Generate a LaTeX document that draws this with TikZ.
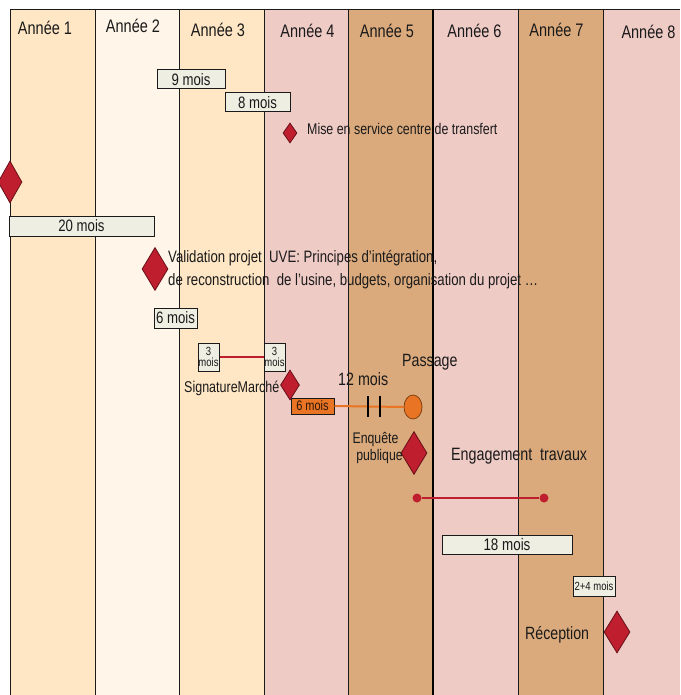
\documentclass[tikz,border=0pt]{standalone}
\usepackage{graphicx}
\usepackage{fontspec}
\setmainfont{Liberation Sans}
\usetikzlibrary{shapes.geometric}
\definecolor{colA}{HTML}{FFE6C4}
\definecolor{colB}{HTML}{FFF5E8}
\definecolor{colP}{HTML}{EFCBC6}
\definecolor{colT}{HTML}{DBAA7C}
\definecolor{boxf}{HTML}{EEEEE2}
\definecolor{dred}{HTML}{BE1E2D}
\definecolor{orng}{HTML}{E87424}
\definecolor{inkc}{HTML}{1A1A1A}
\newcommand\vs[1]{\scalebox{1}[1.25]{#1}}
\newcommand\fs[1]{\fontsize{#1}{#1}\selectfont}
\tikzset{
  mbox/.style={draw=inkc, fill=boxf, line width=1, inner sep=0, text=inkc},
  msdiam/.style={shape=diamond, draw=dred!55!black, fill=dred, inner sep=0, line width=0.8},
  lbl/.style={inner sep=0, anchor=base west, text=inkc},
  hdr/.style={inner sep=0, anchor=base, text=inkc, font=\fs{14.5}},
  sep/.style={line width=1, draw=inkc},
}
\begin{document}
\begin{tikzpicture}[x=1pt,y=-1pt]
\useasboundingbox (0,0) rectangle (680,695);
% columns
\fill[colA] (10,10) rectangle (95,695);
\fill[colB] (95,10) rectangle (179,695);
\fill[colA] (179,10) rectangle (264,695);
\fill[colP] (264,10) rectangle (348,695);
\fill[colT] (348,10) rectangle (433,695);
\fill[colP] (433,10) rectangle (518,695);
\fill[colT] (518,10) rectangle (603,695);
\fill[colP] (603,10) rectangle (680,695);
\draw[sep] (10,10) -- (680,10);
\foreach \xx in {10,95,179,264,348,518,603} \draw[sep] (\xx,10) -- (\xx,695);
\draw[line width=2.5, draw=black] (433,10) -- (433,695);
% headers
\node[hdr] (h1) at (45,35) {\vs{Année 1}};
\node[hdr] (h2) at (133,33) {\vs{Année 2}};
\node[hdr] (h3) at (218,37) {\vs{Année 3}};
\node[hdr] (h4) at (307.5,38) {\vs{Année 4}};
\node[hdr] (h5) at (387,38) {\vs{Année 5}};
\node[hdr] (h6) at (474.5,38) {\vs{Année 6}};
\node[hdr] (h7) at (556.5,37) {\vs{Année 7}};
\node[hdr] (h8) at (648.5,39) {\vs{Année 8}};
% duration boxes
\node[mbox, minimum width=68, minimum height=19, font=\fs{13.2}] (b9) at (191,79.5) {\vs{9 mois}};
\node[mbox, minimum width=65, minimum height=19, font=\fs{13.2}] (b8) at (257.5,102.5) {\vs{8 mois}};
\node[mbox, minimum width=145, minimum height=20, font=\fs{13.2}] (b20) at (81.5,226) {\vs{20 mois}};
\node[mbox, minimum width=43, minimum height=20, font=\fs{13.2}] (b6) at (175.5,318) {\vs{6 mois}};
\node[mbox, minimum width=21, minimum height=28, font=\fs{9.5}, align=center] (b3a) at (208.5,357) {\vs{3}\\[1pt]\vs{mois}};
\node[mbox, minimum width=21, minimum height=28, font=\fs{9.5}, align=center] (b3b) at (274.5,357) {\vs{3}\\[1pt]\vs{mois}};
\node[mbox, fill=orng, minimum width=43, minimum height=16, font=\fs{11}, text=black!80!orng] (bo6) at (312.5,406) {\vs{6 mois}};
\node[mbox, minimum width=130, minimum height=19, font=\fs{13.4}] (b18) at (507,544.5) {\vs{18 mois}};
\node[mbox, minimum width=42, minimum height=20, font=\fs{9.5}] (b24) at (594,586) {\vs{2+4 mois}};
% milestones
\node[msdiam, minimum width=24, minimum height=42] (d1) at (10,182) {};
\node[msdiam, minimum width=14, minimum height=20] (d2) at (290,133) {};
\node[msdiam, minimum width=26, minimum height=43] (d3) at (155,269) {};
\node[msdiam, minimum width=19, minimum height=30] (d4) at (290,385) {};
\node[msdiam, minimum width=26, minimum height=43] (d5) at (414,453) {};
\node[msdiam, minimum width=26, minimum height=42] (d6) at (617,632) {};
% connectors
\draw[dred, line width=2] (b3a.east) -- (b3b.west);
\node[ellipse, draw=orng!55!black, fill=orng, minimum width=18, minimum height=24, inner sep=0, line width=0.8] (pass) at (413,407) {};
\draw[orng, line width=2] (bo6.east) -- (pass.west);
\coordinate (k1t) at (368,396); \coordinate (k1b) at (368,417);
\coordinate (k2t) at (380,396); \coordinate (k2b) at (380,417);
\draw[black, line width=2] (k1t) -- (k1b);
\draw[black, line width=2] (k2t) -- (k2b);
\node[circle, fill=dred, inner sep=0, minimum size=9] (ea) at (417,498) {};
\node[circle, fill=dred, inner sep=0, minimum size=9] (eb) at (544,498) {};
\draw[dred, line width=2] (ea) -- (eb);
% labels
\node[lbl, font=\fs{12.4}] (t1) at (307,135) {\vs{Mise en service centre de transfert}};
\node[lbl, font=\fs{13.2}] (t2) at (168,262) {\vs{Validation projet\ \ UVE: Principes d’intégration,}};
\node[lbl, font=\fs{13.2}] (t3) at (168,285) {\vs{de reconstruction\ \ de l’usine, budgets, organisation du projet …}};
\node[lbl, font=\fs{12.5}] (t4) at (184,392) {\vs{SignatureMarché}};
\node[lbl, font=\fs{14.3}] (t5) at (338,385) {\vs{12 mois}};
\node[lbl, font=\fs{14.2}] (t6) at (402,366) {\vs{Passage}};
\node[inner sep=0, anchor=base, text=inkc, font=\fs{12.3}] (t7) at (375.5,443) {\vs{Enquête}};
\node[inner sep=0, anchor=base, text=inkc, font=\fs{12.3}] (t8) at (379.5,460) {\vs{publique}};
\node[lbl, font=\fs{14.3}] (t9) at (451,460) {\vs{Engagement\ \ travaux}};
\node[lbl, font=\fs{14.2}] (t10) at (525,639) {\vs{Réception}};
\end{tikzpicture}
\end{document}
